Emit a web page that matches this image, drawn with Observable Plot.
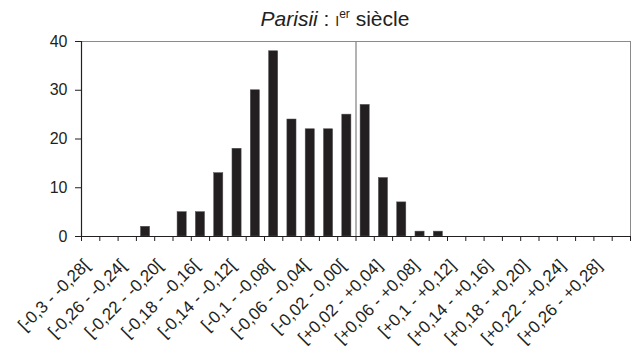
<!DOCTYPE html>
<html><head><meta charset="utf-8">
<script src="https://cdn.jsdelivr.net/npm/d3@7"></script>
<script src="https://cdn.jsdelivr.net/npm/@observablehq/plot@0.6"></script>
<style>
body{margin:0;background:#fff;font-family:"Liberation Sans",Arial,sans-serif;}
#wrap{position:relative;width:633px;height:361px;overflow:hidden;}
#title{position:absolute;top:0;left:0;width:633px;height:30px;}
#title span.t{position:absolute;left:335px;top:8px;transform:translateX(-50%);white-space:nowrap;font-size:21px;color:#222;line-height:21px;}
#title sup{font-size:12px;vertical-align:8px;line-height:0;}
#title .sc{font-size:14px;}
#chart{position:absolute;top:30px;left:0;}
</style></head><body>
<div id="wrap">
<div id="title"><span class="t"><i>Parisii</i> : <span class="sc">I</span><sup>er</sup> siècle</span></div>
<div id="chart"></div>
</div>
<script>
// lower bounds of the 0.02-wide classes
const binStarts = d3.range(30).map(i => +(-0.30 + 0.02 * i).toFixed(2));
const counts = [0,0,0,2,0,5,5,13,18,30,38,24,22,22,25,27,12,7,1,1,0,0,0,0,0,0,0,0,0,0];
const tickLabels = [
  "[-0,3 - -0,28[", "[-0,26 - -0,24[", "[-0,22 - -0,20[", "[-0,18 - -0,16[",
  "[-0,14 - -0,12[", "[-0,1 - -0,08[", "[-0,06 - -0,04[", "[-0,02 - 0,00[",
  "[+0,02 - +0,04]", "[+0,06 - +0,08]", "[+0,1 - +0,12]", "[+0,14 - +0,16]",
  "[+0,18 - +0,20]", "[+0,22 - +0,24]", "[+0,26 - +0,28]"
];
const yTicks = [0, 10, 20, 30, 40];
const binWidth = 0.02;

const data = binStarts.map((lo, i) => ({lo, hi: lo + binWidth, count: counts[i]}));
const labelData = tickLabels.map((label, k) => ({label, x: binStarts[2 * k] + binWidth / 2}));
const boundaries = d3.range(31).map(i => -0.30 + binWidth * i);

const dark = "#231f20", gray = "#8a8a8a";

const chart = Plot.plot({
  width: 633,
  height: 331,
  marginTop: 11,
  marginLeft: 81,
  marginRight: 3,
  marginBottom: 125,
  style: {fontFamily: "'Liberation Sans', Arial, sans-serif", fontSize: "16px", color: dark, background: "#fff"},
  x: {domain: [-0.30, 0.30], axis: null},
  y: {domain: [0, 40], axis: null},
  marks: [
    Plot.ruleY([40], {stroke: gray, strokeWidth: 1}),
    Plot.ruleX([0.30], {stroke: gray, strokeWidth: 1}),
    Plot.ruleX([0], {stroke: gray, strokeWidth: 1.3}),
    Plot.rectY(data.filter(d => d.count > 0), {
      x1: d => d.lo + binWidth / 4, x2: d => d.hi - binWidth / 4, y: "count",
      fill: dark, stroke: "#555", strokeWidth: 0.5
    }),
    Plot.axisY({ticks: yTicks, tickSize: 6, tickPadding: 8, stroke: dark, fontSize: 16, label: null}),
    Plot.axisX({ticks: boundaries, tickSize: 5, tickFormat: () => "", stroke: dark, label: null}),
    Plot.ruleX([-0.30], {stroke: dark, strokeWidth: 1.2}),
    Plot.ruleY([0], {stroke: dark, strokeWidth: 1.2}),
    Plot.text(labelData, {
      x: "x", text: "label", frameAnchor: "bottom", rotate: -45,
      textAnchor: "end", lineAnchor: "middle", dy: 26, dx: -4, fontSize: 17, fill: dark
    })
  ]
});
document.getElementById("chart").appendChild(chart);
</script>
</body></html>
